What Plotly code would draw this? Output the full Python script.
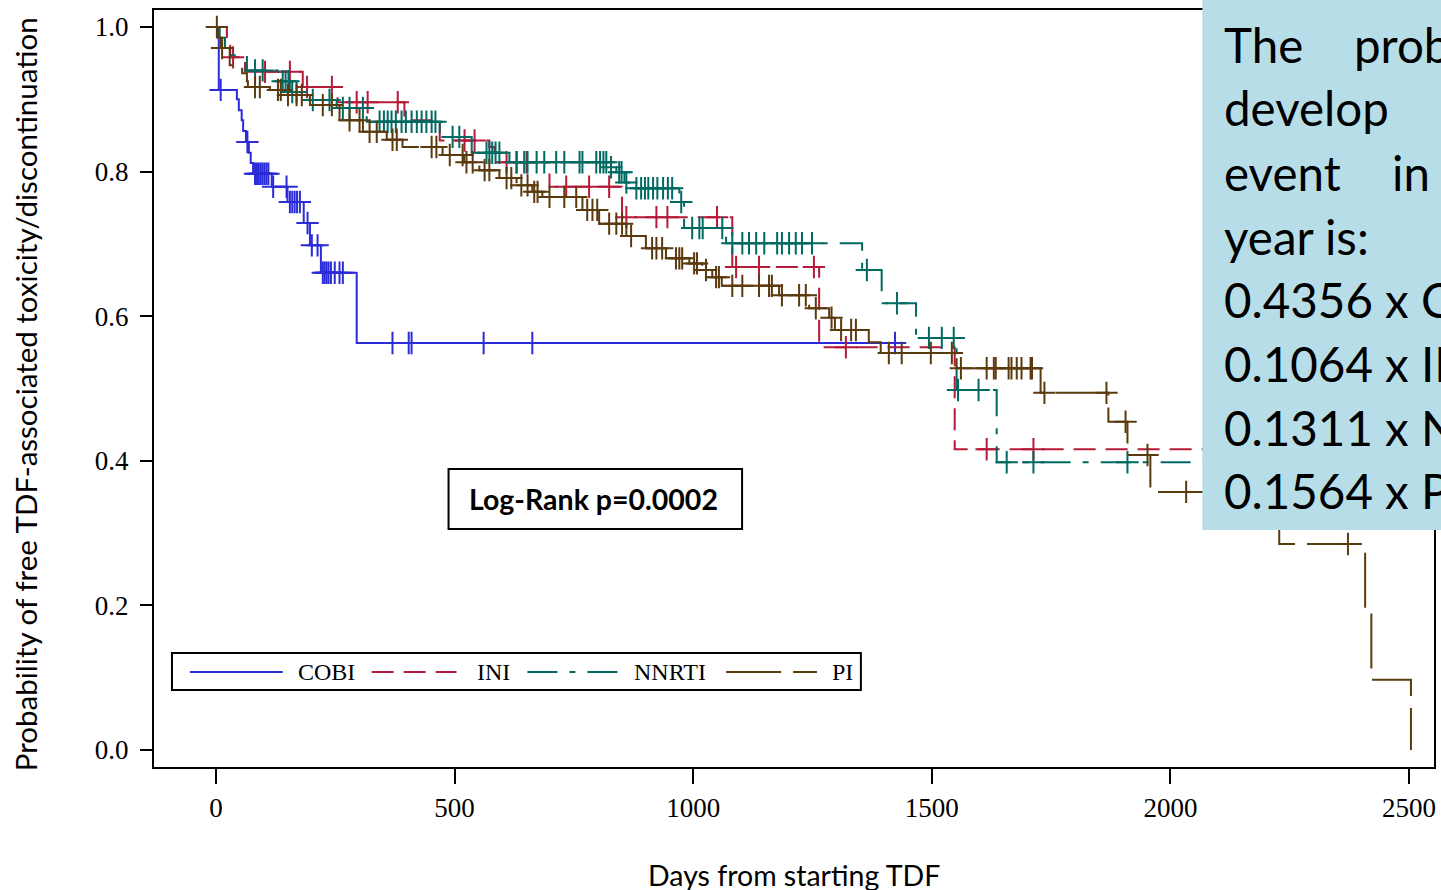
import numpy as np
import plotly.graph_objects as go

# ---------------- data: Kaplan-Meier step estimates (days, survival) ----------------
cobi_t = [0, 6, 44, 48, 54, 57, 63, 69, 73, 78, 117, 150, 184, 197, 220, 295]
cobi_s = [1.0, 0.913, 0.900, 0.885, 0.871, 0.856, 0.841, 0.826, 0.812, 0.797,
          0.779, 0.758, 0.729, 0.698, 0.660, 0.563]
cobi_end = 1441
cobi_cens = [10, 66, 82, 86, 90, 94, 98, 102, 106, 110, 120, 148, 155, 160, 165,
             170, 176, 192, 201, 213, 224, 228, 232, 236, 241, 249, 259, 266,
             370, 404, 410, 561, 663, 1423]

ini_t = [0, 23, 30, 61, 182, 255, 395, 469, 573, 584, 699, 851, 1082, 1264, 1548]
ini_s = [1.0, 0.978, 0.958, 0.938, 0.917, 0.896, 0.871, 0.843, 0.834, 0.813,
         0.779, 0.737, 0.668, 0.557, 0.416]
ini_end = 2150
ini_cens = [36, 103, 155, 191, 243, 295, 318, 381, 521, 542, 609, 630, 651, 734,
            782, 824, 860, 923, 946, 1050, 1090, 1138, 1253, 1320, 1615, 1713]

nnrti_t = [0, 8, 19, 27, 65, 130, 155, 186, 253, 316, 469, 536, 615, 824, 839,
           856, 866, 971, 981, 1069, 1354, 1395, 1467, 1552, 1636]
nnrti_s = [1.0, 0.985, 0.970, 0.961, 0.940, 0.925, 0.910, 0.899, 0.888, 0.869,
           0.848, 0.826, 0.813, 0.806, 0.799, 0.785, 0.777, 0.758, 0.722, 0.701,
           0.664, 0.618, 0.570, 0.498, 0.398]
nnrti_end = 2150
nnrti_cens = [82, 98, 140, 146, 152, 160, 169, 203, 238, 266, 280, 308,
              343, 352, 360, 368, 377, 389, 398, 410, 421, 431, 441, 452, 460,
              496, 510, 567, 573, 579, 586, 594,
              630, 646, 653, 672, 688, 713, 730, 762, 768, 797, 805, 812, 818,
              828, 845, 850, 860, 881, 891, 899, 906, 916, 925, 937, 947, 956,
              975, 998, 1013, 1020, 1061,
              1082, 1103, 1117, 1132, 1149, 1176, 1186, 1201, 1215, 1228, 1249,
              1364, 1427, 1494, 1521, 1546, 1555, 1598, 1657, 1713, 1910]

pi_t = [0, 4, 10, 29, 55, 65, 67, 113, 140, 197, 259, 308, 358, 391, 475, 520,
        552, 594, 630, 663, 684, 768, 803, 860, 901, 943, 992, 1019, 1040, 1060,
        1180, 1243, 1285, 1297, 1368, 1393, 1552, 1728, 1870, 1910, 1958, 2228,
        2408, 2421, 2504]
pi_s = [1.0, 0.985, 0.971, 0.947, 0.936, 0.925, 0.917, 0.913, 0.906, 0.892,
        0.871, 0.855, 0.844, 0.834, 0.823, 0.813, 0.802, 0.791, 0.781, 0.772,
        0.765, 0.747, 0.728, 0.711, 0.694, 0.680, 0.673, 0.664, 0.654, 0.642,
        0.629, 0.611, 0.598, 0.581, 0.564, 0.549, 0.528, 0.494, 0.454, 0.408,
        0.357, 0.285, 0.191, 0.097, 0.0]
pi_end = 2504
pi_cens = [2, 13, 82, 92, 130, 136, 151, 169, 180, 224, 243, 280, 301, 322, 337,
           370, 379, 452, 462, 490, 517, 525, 538, 563, 573, 609, 619, 640, 653,
           667, 674, 699, 730, 755, 778, 789, 799, 824, 839, 851, 870, 914, 923,
           935, 964, 971, 977, 1002, 1008, 1027, 1048, 1054, 1082, 1103, 1138,
           1159, 1165, 1186, 1222, 1236, 1257, 1290, 1310, 1331, 1341, 1410,
           1437, 1498, 1542, 1561, 1615, 1630, 1634, 1661, 1667, 1678, 1688,
           1707, 1710, 1736, 1866, 1906, 1952, 2033, 2372]

groups = ["COBI", "INI", "NNRTI", "PI"]
x_ticks = [0, 500, 1000, 1500, 2000, 2500]
y_ticks = [0.0, 0.2, 0.4, 0.6, 0.8, 1.0]
y_tick_text = ["0.0", "0.2", "0.4", "0.6", "0.8", "1.0"]
box_lines = ["year is:", "0.4356 x COBI", "0.1064 x INI", "0.1311 x NNRTI", "0.1564 x PI"]

# ---------------- styling ----------------
colors = {"COBI": "#2b2bd8", "INI": "#b51a3a", "NNRTI": "#006a62", "PI": "#5b3a0e"}
dashes = {"COBI": "solid", "INI": "22px,10px", "NNRTI": "30px,12px,6px,12px",
          "PI": "55px,12px"}
series = {
    "COBI": (cobi_t, cobi_s, cobi_end, cobi_cens),
    "INI": (ini_t, ini_s, ini_end, ini_cens),
    "NNRTI": (nnrti_t, nnrti_s, nnrti_end, nnrti_cens),
    "PI": (pi_t, pi_s, pi_end, pi_cens),
}

W, H = 1441, 890
L, R, T, B = 154, 1436, 10, 767  # plot frame in pixels


def fx(p):
    return (p - L) / (R - L)


def fy(p):
    return (B - p) / (B - T)


def surv_at(times, surv, t):
    i = np.searchsorted(np.asarray(times), t, side="right") - 1
    return surv[i]


fig = go.Figure()
for g in groups:
    t, s, end, cens = series[g]
    xs = list(t) + [end]
    ys = list(s) + [s[-1]]
    fig.add_trace(go.Scatter(
        x=xs, y=ys, mode="lines", line_shape="hv",
        line=dict(color=colors[g], width=2, dash=dashes[g]),
        name=g, showlegend=False, hoverinfo="skip"))
    fig.add_trace(go.Scatter(
        x=cens, y=[surv_at(t, s, c) for c in cens], mode="markers",
        marker=dict(symbol="cross-thin", size=16,
                    line=dict(width=2, color=colors[g])),
        showlegend=False, hoverinfo="skip"))

serif = "Liberation Serif"
sans = "Lato"

shapes = []
annotations = []

# log-rank box
shapes.append(dict(type="rect", xref="paper", yref="paper",
                   x0=fx(449), x1=fx(743), y0=fy(529), y1=fy(469),
                   line=dict(color="black", width=2), fillcolor="white", layer="above"))
annotations.append(dict(xref="paper", yref="paper", x=fx(594), y=fy(499),
                        text="<b>Log-Rank p=0.0002</b>", showarrow=False,
                        font=dict(family=sans, size=28.5, color="black"),
                        xanchor="center", yanchor="middle"))

# legend box with line samples
shapes.append(dict(type="rect", xref="paper", yref="paper",
                   x0=fx(172), x1=fx(862), y0=fy(690), y1=fy(653),
                   line=dict(color="black", width=2), fillcolor="white", layer="above"))
leg_line_x = {"COBI": (190, 283), "INI": (372, 457), "NNRTI": (528, 620), "PI": (727, 818)}
leg_text_x = {"COBI": 296, "INI": 476, "NNRTI": 633, "PI": 831}
for g in groups:
    a, b = leg_line_x[g]
    shapes.append(dict(type="line", xref="paper", yref="paper",
                       x0=fx(a), x1=fx(b), y0=fy(672), y1=fy(672),
                       line=dict(color=colors[g], width=2, dash=dashes[g]), layer="above"))
    annotations.append(dict(xref="paper", yref="paper", x=fx(leg_text_x[g]), y=fy(672),
                            text=g, showarrow=False, xanchor="left", yanchor="middle",
                            font=dict(family=serif, size=24, color="black")))

# light-blue note panel on the right (text runs past the page edge)
shapes.append(dict(type="rect", xref="paper", yref="paper",
                   x0=fx(1204), x1=fx(1500), y0=fy(530), y1=fy(-5),
                   line=dict(width=0), fillcolor="#b7dee8", layer="above"))
note_font = dict(family=sans, size=47.5, color="black")
note_rows = [(45, [(1224, "The"), (1354, "probability")]),
             (108, [(1224, "develop")]),
             (172, [(1224, "event"), (1392, "in")])]
for i, line in enumerate(box_lines):
    note_rows.append((236 + i * 63.7, [(1224, line)]))
for yc, words in note_rows:
    for xl, w in words:
        annotations.append(dict(xref="paper", yref="paper", x=fx(xl), y=fy(yc),
                                text=w, showarrow=False, xanchor="left",
                                yanchor="middle", font=note_font))

# axis titles
annotations.append(dict(xref="paper", yref="paper", x=fx(795), y=fy(875),
                        text="Days from starting TDF", showarrow=False,
                        xanchor="center", yanchor="middle",
                        font=dict(family=sans, size=28.5, color="black")))
annotations.append(dict(xref="paper", yref="paper", x=fx(25), y=fy(394),
                        text="Probability of free TDF-associated toxicity/discontinuation",
                        showarrow=False, textangle=-90,
                        xanchor="center", yanchor="middle",
                        font=dict(family=sans, size=29.5, color="black")))

x_scale = (1411 - 216) / 2500
y_scale = 750 - 27
fig.update_layout(
    width=W, height=H,
    margin=dict(l=L, r=W - R, t=T, b=H - B, pad=0),
    paper_bgcolor="white", plot_bgcolor="white",
    showlegend=False,
    shapes=shapes, annotations=annotations,
    xaxis=dict(range=[-(216 - L) / x_scale, (R - 216) / x_scale],
               tickvals=x_ticks, ticks="outside", ticklen=15, tickwidth=2,
               tickcolor="black", showline=True, linewidth=2, linecolor="black",
               mirror=True, showgrid=False, zeroline=False,
               ticklabelstandoff=1,
               tickfont=dict(family=serif, size=27, color="black")),
    yaxis=dict(range=[-(B - 750) / y_scale, 1 + (27 - T) / y_scale],
               tickvals=y_ticks, ticktext=y_tick_text, ticks="outside", ticklen=12,
               tickwidth=2, tickcolor="black", showline=True, linewidth=2,
               linecolor="black", mirror=True, showgrid=False, zeroline=False,
               ticklabelstandoff=6,
               tickfont=dict(family=serif, size=27, color="black")),
)

fig.write_html("out.html")
